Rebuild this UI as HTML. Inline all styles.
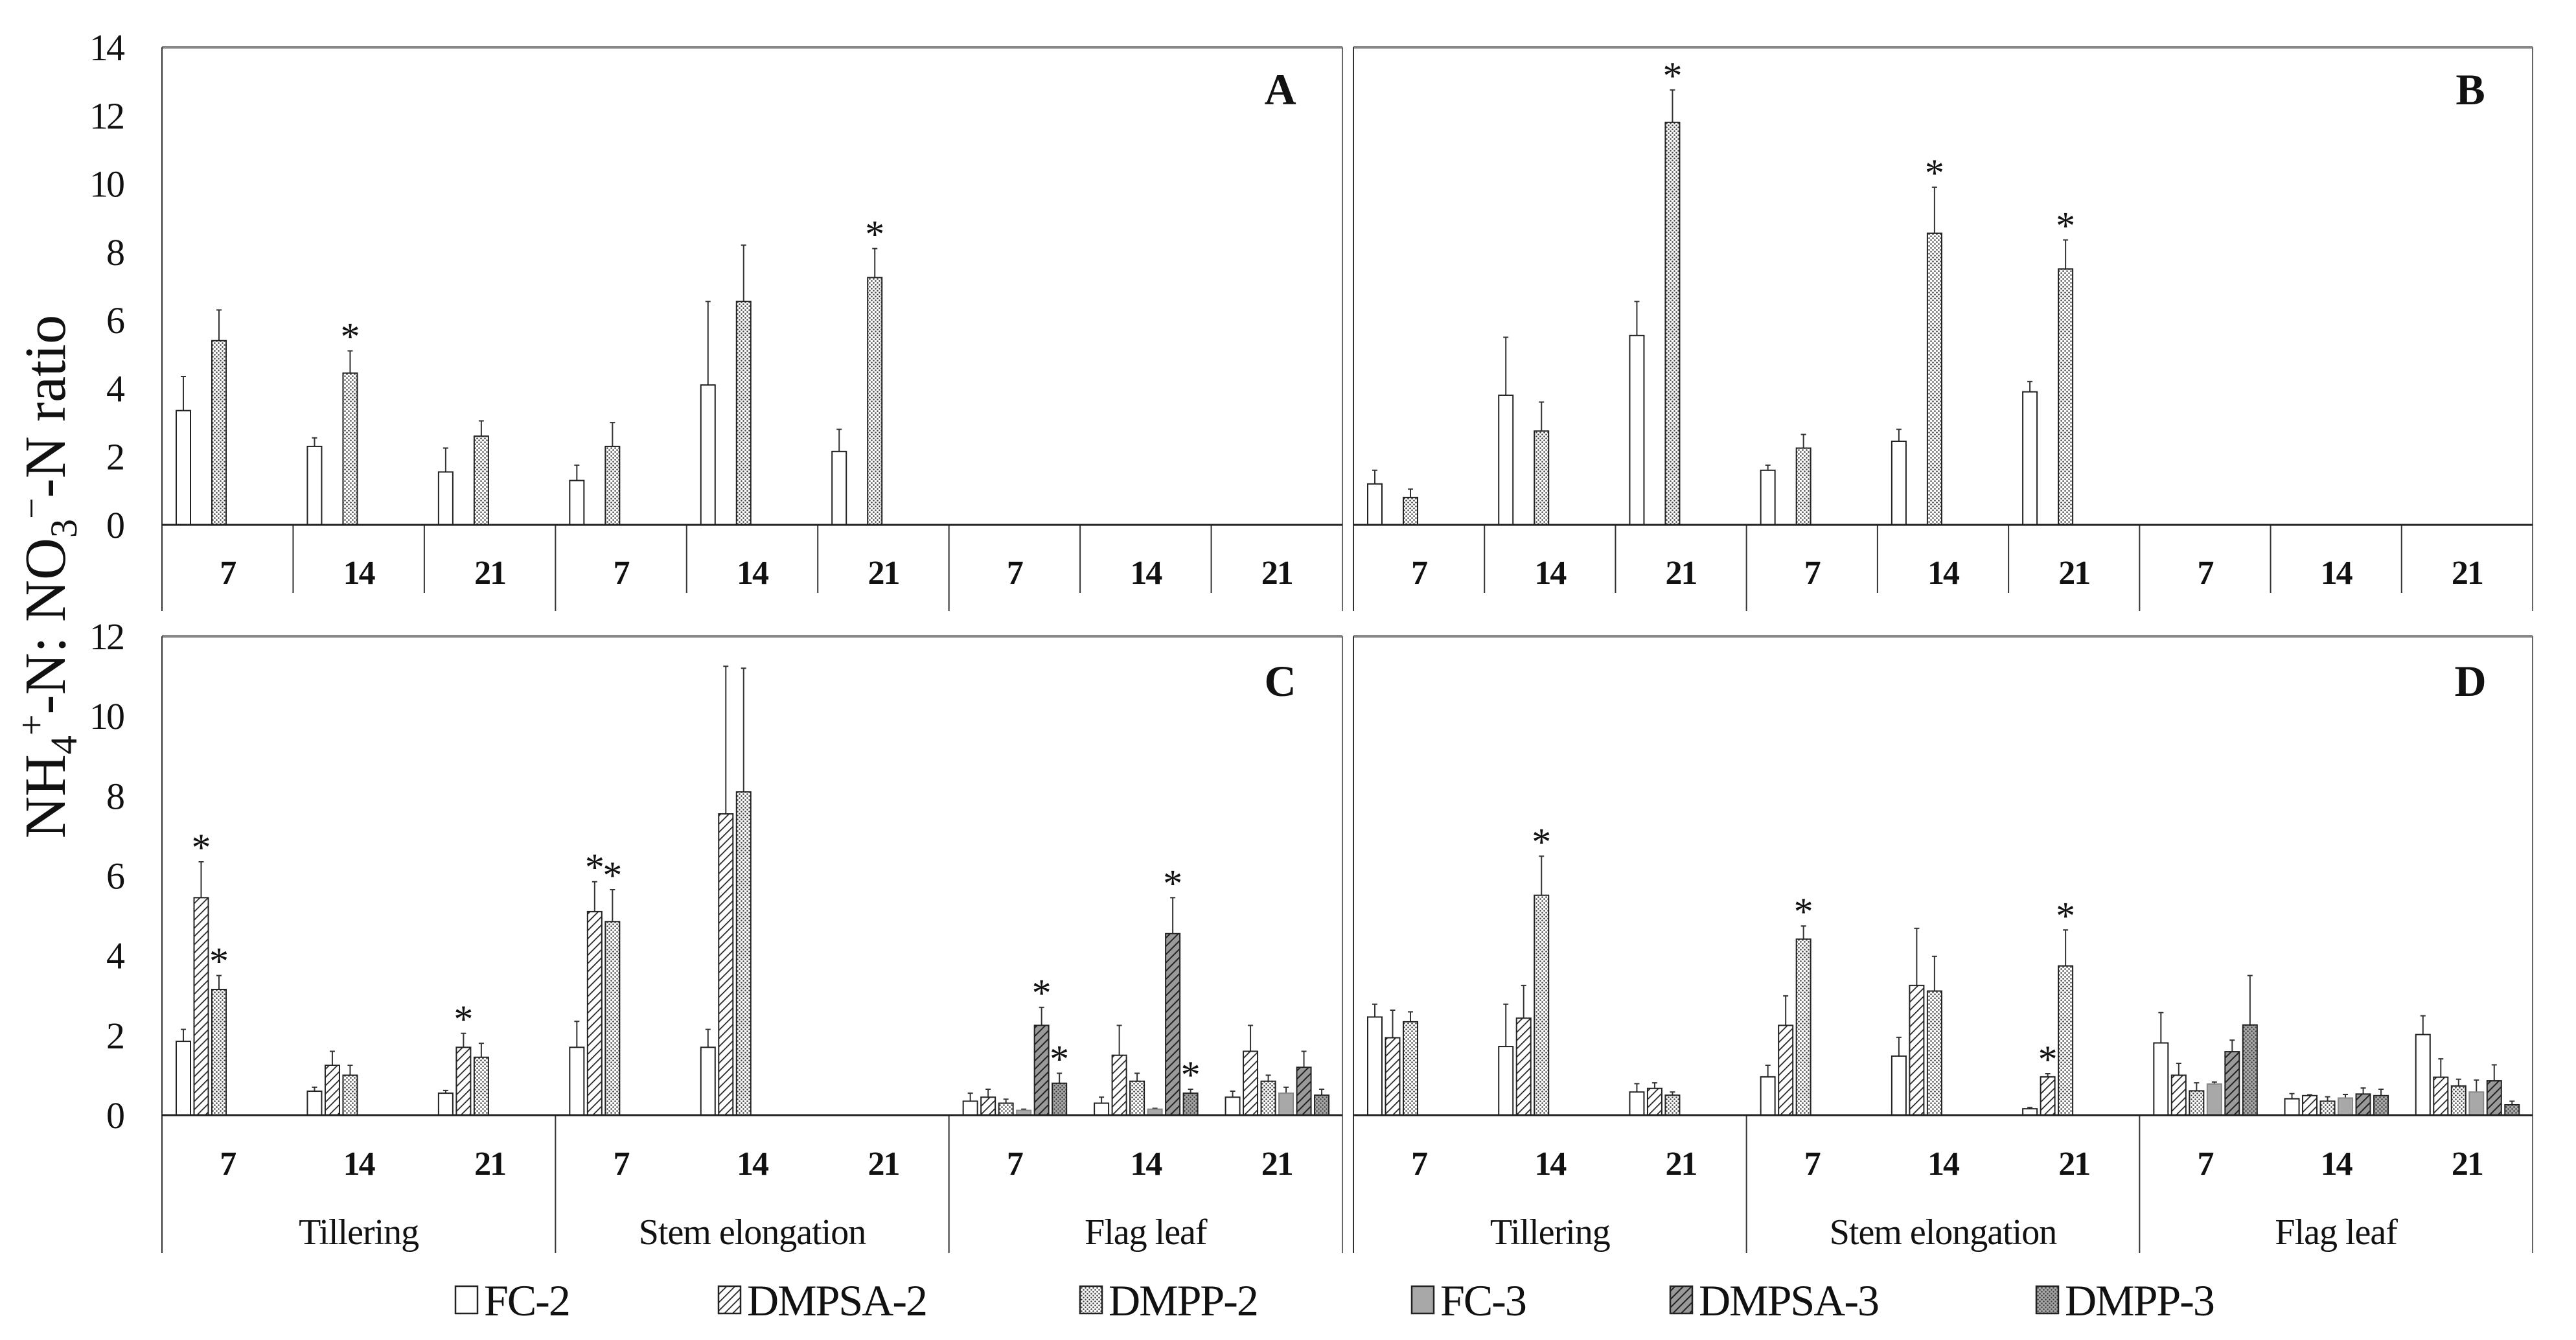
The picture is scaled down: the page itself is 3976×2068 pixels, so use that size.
<!DOCTYPE html>
<html><head><meta charset="utf-8"><style>
html,body{margin:0;padding:0;background:#fff}
svg{display:block}
text{font-family:"Liberation Serif",serif;fill:#111}
</style></head><body>
<svg id="chart" width="3976" height="2068" viewBox="0 0 3976 2068" xmlns="http://www.w3.org/2000/svg">
<defs>
<pattern id="hatch" patternUnits="userSpaceOnUse" width="9" height="9" patternTransform="rotate(45)"><rect width="9" height="9" fill="#fff"/><line x1="0" y1="0" x2="0" y2="9" stroke="#222" stroke-width="3.5"/></pattern>
<pattern id="hatch3" patternUnits="userSpaceOnUse" width="9" height="9" patternTransform="rotate(45)"><rect width="9" height="9" fill="#9a9a9a"/><line x1="0" y1="0" x2="0" y2="9" stroke="#222" stroke-width="4"/></pattern>
<pattern id="dots" patternUnits="userSpaceOnUse" width="6" height="6"><rect width="6" height="6" fill="#fff"/><circle cx="1.5" cy="1.5" r="1.3" fill="#444"/><circle cx="4.5" cy="4.5" r="1.3" fill="#444"/></pattern>
<pattern id="dots3" patternUnits="userSpaceOnUse" width="6" height="6"><rect width="6" height="6" fill="#a8a8a8"/><circle cx="1.5" cy="1.5" r="1.3" fill="#444"/><circle cx="4.5" cy="4.5" r="1.3" fill="#444"/></pattern>
</defs>
<text transform="translate(100,890) rotate(-90)" text-anchor="middle" font-size="90">NH<tspan font-size="58" dy="18">4</tspan><tspan font-size="58" dy="-50">+</tspan><tspan dy="32">-N: NO</tspan><tspan font-size="58" dy="18">3</tspan><tspan font-size="58" dy="-50">−</tspan><tspan dy="32">-N ratio</tspan></text>
</svg>
<script>
// ---- data ----
const days = ["7","14","21","7","14","21","7","14","21"];
const stages = ["Tillering","Stem elongation","Flag leaf"];
const seriesNames = ["FC-2","DMPSA-2","DMPP-2","FC-3","DMPSA-3","DMPP-3"];
const ticksTop = [0,2,4,6,8,10,12,14];
const ticksBottom = [0,2,4,6,8,10,12];
const N = null;
// Panel A
const aFC2 = [3.35,2.3,1.55,1.3,4.1,2.15,N,N,N];
const aFC2sd = [1.0,0.25,0.7,0.45,2.45,0.65,0,0,0];
const aDMPP2 = [5.4,4.45,2.6,2.3,6.55,7.25,N,N,N];
const aDMPP2sd = [0.9,0.65,0.45,0.7,1.65,0.85,0,0,0];
const aStars = [[1,2],[5,2]];
// Panel B
const bFC2 = [1.2,3.8,5.55,1.6,2.45,3.9,N,N,N];
const bFC2sd = [0.4,1.7,1.0,0.15,0.35,0.3,0,0,0];
const bDMPP2 = [0.8,2.75,11.8,2.25,8.55,7.5,N,N,N];
const bDMPP2sd = [0.25,0.85,0.95,0.4,1.35,0.85,0,0,0];
const bStars = [[2,2],[4,2],[5,2]];
// Panel C
const cFC2 = [1.85,0.6,0.55,1.7,1.7,N,0.35,0.3,0.45];
const cFC2sd = [0.3,0.1,0.07,0.65,0.45,0,0.2,0.15,0.15];
const cDMPSA2 = [5.45,1.25,1.7,5.1,7.55,N,0.45,1.5,1.6];
const cDMPSA2sd = [0.9,0.35,0.35,0.75,3.7,0,0.2,0.75,0.65];
const cDMPP2 = [3.15,1.0,1.45,4.85,8.1,N,0.3,0.85,0.85];
const cDMPP2sd = [0.35,0.25,0.35,0.8,3.1,0,0.1,0.2,0.15];
const cFC3 = [N,N,N,N,N,N,0.12,0.15,0.55];
const cFC3sd = [0,0,0,0,0,0,0.03,0.02,0.15];
const cDMPSA3 = [N,N,N,N,N,N,2.25,4.55,1.2];
const cDMPSA3sd = [0,0,0,0,0,0,0.45,0.9,0.4];
const cDMPP3 = [N,N,N,N,N,N,0.8,0.55,0.5];
const cDMPP3sd = [0,0,0,0,0,0,0.25,0.1,0.15];
const cStars = [[0,1],[0,2],[2,1],[3,1],[3,2],[6,4],[6,5],[7,4],[7,5]];
// Panel D
const dFC2 = [2.46,1.72,0.58,0.96,1.48,0.16,1.81,0.41,2.02];
const dFC2sd = [0.32,1.06,0.21,0.29,0.47,0.03,0.76,0.13,0.47];
const dDMPSA2 = [1.94,2.43,0.67,2.25,3.25,0.96,1.0,0.49,0.95];
const dDMPSA2sd = [0.69,0.82,0.14,0.74,1.43,0.08,0.3,0.02,0.46];
const dDMPP2 = [2.34,5.51,0.5,4.41,3.11,3.74,0.61,0.35,0.73];
const dDMPP2sd = [0.25,0.98,0.08,0.33,0.87,0.9,0.2,0.11,0.17];
const dFC3 = [N,N,N,N,N,N,0.78,0.43,0.58];
const dFC3sd = [0,0,0,0,0,0,0.05,0.09,0.3];
const dDMPSA3 = [N,N,N,N,N,N,1.59,0.53,0.86];
const dDMPSA3sd = [0,0,0,0,0,0,0.29,0.15,0.4];
const dDMPP3 = [N,N,N,N,N,N,2.26,0.49,0.26];
const dDMPP3sd = [0,0,0,0,0,0,1.24,0.16,0.09];
const dStars = [[1,2],[3,2],[5,1],[5,2]];

// ---- rendering ----
const NS = "http://www.w3.org/2000/svg";
const svg = document.getElementById("chart");
const fills = ["#fff","url(#hatch)","url(#dots)","#a8a8a8","url(#hatch3)","url(#dots3)"];
function mk(tag, attrs, parent, txt){
  const e = document.createElementNS(NS, tag);
  for (const k in attrs) e.setAttribute(k, attrs[k]);
  if (txt !== undefined) e.textContent = txt;
  (parent || svg).appendChild(e);
  return e;
}
const panels = [
  {id:"a", label:"A", left:250, right:2072, top:73, zero:810, max:14, ticks:ticksTop, showTicks:true, bottom:false,
   series:[[aFC2,aFC2sd,0],[aDMPP2,aDMPP2sd,2]], stars:aStars},
  {id:"b", label:"B", left:2089, right:3909, top:73, zero:810, max:14, ticks:ticksTop, showTicks:false, bottom:false,
   series:[[bFC2,bFC2sd,0],[bDMPP2,bDMPP2sd,2]], stars:bStars},
  {id:"c", label:"C", left:250, right:2072, top:982, zero:1721, max:12, ticks:ticksBottom, showTicks:true, bottom:true,
   series:[[cFC2,cFC2sd,0],[cDMPSA2,cDMPSA2sd,1],[cDMPP2,cDMPP2sd,2],[cFC3,cFC3sd,3],[cDMPSA3,cDMPSA3sd,4],[cDMPP3,cDMPP3sd,5]], stars:cStars},
  {id:"d", label:"D", left:2089, right:3909, top:982, zero:1721, max:12, ticks:ticksBottom, showTicks:false, bottom:true,
   series:[[dFC2,dFC2sd,0],[dDMPSA2,dDMPSA2sd,1],[dDMPP2,dDMPP2sd,2],[dFC3,dFC3sd,3],[dDMPSA3,dDMPSA3sd,4],[dDMPP3,dDMPP3sd,5]], stars:dStars}
];
const SLOT = 27.5, OFF = 22, BW = 22;
panels.forEach(p => {
  const g = mk("g", {});
  
  
  const gw = (p.right - p.left) / 9;
  const y = v => p.zero - v * (p.zero - p.top) / p.max;
  const xBar = (gi, s) => p.left + gi * gw + OFF + s * SLOT;
  const base = p.bottom ? 1934 : 943;
  mk("line", {x1:p.left, y1:p.top, x2:p.right, y2:p.top, stroke:"#888", "stroke-width":4}, g);
  mk("line", {x1:p.left, y1:p.top, x2:p.left, y2:base, stroke:"#333", "stroke-width":2}, g);
  mk("line", {x1:p.right, y1:p.top, x2:p.right, y2:base, stroke:"#666", "stroke-width":2}, g);
  for (let i = 1; i < 9; i++) {
    const x = p.left + i * gw;
    if (i % 3 === 0) mk("line", {x1:x, y1:p.zero, x2:x, y2:base, stroke:"#333", "stroke-width":2}, g);
    else if (!p.bottom) mk("line", {x1:x, y1:p.zero, x2:x, y2:915, stroke:"#333", "stroke-width":2}, g);
  }
  if (p.showTicks) p.ticks.forEach(t => {
    const tl = mk("text", {x:190, y:y(t) + 20, "text-anchor":"end", "font-size":58, "letter-spacing":"-3"}, g, String(t));
    
    
  });
  p.series.forEach(([vals, sds, s]) => {
    vals.forEach((v, gi) => {
      if (v === null) return;
      const x = xBar(gi, s);
      const cx = x + BW / 2;
      const top = y(v + sds[gi]);
      const eb = mk("path", {d:`M${cx},${y(v)}V${top}M${cx-4},${top}H${cx+4}`, stroke:"#333", "stroke-width":2, fill:"none"}, g);
      
      
      const r = mk("rect", {x:x, y:y(v), width:BW, height:p.zero - y(v), fill:fills[s], stroke: s===3 ? "#888" : "#222", "stroke-width":2}, g);
      
      
    });
  });
  p.stars.forEach(([gi, s]) => {
    const ser = p.series.find(z => z[2] === s);
    const v = ser[0][gi] + ser[1][gi];
    const st = mk("text", {x:xBar(gi, s) + BW / 2, y:y(v) - 2, "text-anchor":"middle", "font-size":60}, g, "*");
    
    
  });
  mk("line", {x1:p.left, y1:p.zero, x2:p.right, y2:p.zero, stroke:"#222", "stroke-width":3}, g);
  const dy = p.bottom ? 1813 : 901;
  days.forEach((d, i) => {
    const t = mk("text", {x:p.left + (i + 0.5) * gw, y:dy, "text-anchor":"middle", "font-size":52, "font-weight":"bold", "letter-spacing":"-2"}, g, d);
    
    
  });
  if (p.bottom) stages.forEach((s, i) => {
    const t = mk("text", {x:p.left + (i * 3 + 1.5) * gw, y:1920, "text-anchor":"middle", "font-size":56, "letter-spacing":"-1"}, g, s);
    
    
  });
  const lb = mk("text", {x:p.right - 96, y:p.top + (p.bottom ? 92 : 88), "text-anchor":"middle", "font-size":68, "font-weight":"bold"}, g, p.label);
  
  
});
const legendX = [703,1109,1667,2179,2578,3143];
seriesNames.forEach((n, i) => {
  const g = mk("g", {});
  
  
  mk("rect", {x:legendX[i], y:1985, width:34, height:42, fill:fills[i], stroke:"#222", "stroke-width":2.5}, g);
  mk("text", {x:legendX[i] + 44, y:2030, "font-size":68, "letter-spacing":"-2"}, g, n);
});
</script>
</body></html>
